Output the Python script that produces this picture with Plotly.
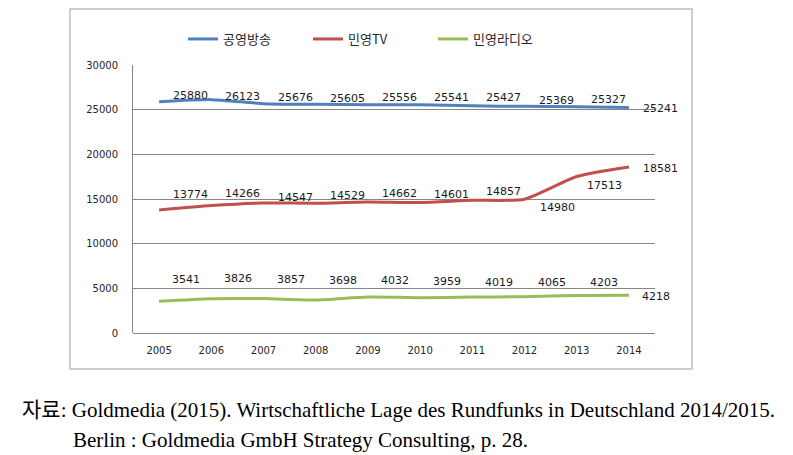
import plotly.graph_objects as go

years = ["2005", "2006", "2007", "2008", "2009", "2010", "2011", "2012", "2013", "2014"]
public_bc = [25880, 26123, 25676, 25605, 25556, 25541, 25427, 25369, 25327, 25241]
private_tv = [13774, 14266, 14547, 14529, 14662, 14601, 14857, 14980, 17513, 18581]
private_radio = [3541, 3826, 3857, 3698, 4032, 3959, 4019, 4065, 4203, 4218]
series_names = ["공영방송", "민영TV", "민영라디오"]
y_ticks = [0, 5000, 10000, 15000, 20000, 25000, 30000]

colors = ["#4F81BD", "#C0504D", "#9BBB59"]

# label offsets (pixels, positive = up) — styling only
blue_dy = [6, 3, 6, 6, 7, 7, 8, 6, 7, -1]
red_dy = [15, 12, 6, 8, 9, 8, 9, -8, -9, -1]
green_dy = [22, 20, 19, 19, 16, 16, 15, 14, 13, -1]
red_dx = [12, 12, 12, 12, 12, 12, 12, 13, 8, 12]

W, H = 793, 455
L, R, T, B = 133, 655, 65, 333

def px(xp):
    return (xp - L) / (R - L)

def py(yp):
    return (B - yp) / (B - T)

fig = go.Figure()
for name, vals, c in zip(series_names, [public_bc, private_tv, private_radio], colors):
    fig.add_trace(go.Scatter(x=years, y=vals, name=name, mode="lines",
                             line=dict(color=c, width=3, shape="spline", smoothing=0.6)))

annotations = []
for vals, dys, dxs in [(public_bc, blue_dy, [12] * 10), (private_tv, red_dy, red_dx),
                       (private_radio, green_dy, [11] * 10)]:
    for i, (yv, dy, dx) in enumerate(zip(vals, dys, dxs)):
        annotations.append(dict(x=i, y=yv, xref="x", yref="y", text=str(yv), showarrow=False,
                                xanchor="left", yanchor="middle", xshift=dx, yshift=dy,
                                font=dict(family="DejaVu Sans", size=11, color="#1a1a1a")))

annotations.append(dict(xref="paper", yref="paper", x=px(20), y=py(410), xanchor="left", yanchor="middle",
                        text="자료: Goldmedia (2015). Wirtschaftliche Lage des Rundfunks in Deutschland 2014/2015.",
                        showarrow=False, font=dict(family="Liberation Serif, Noto Sans CJK KR", size=21, color="#000")))
annotations.append(dict(xref="paper", yref="paper", x=px(71), y=py(440), xanchor="left", yanchor="middle",
                        text="Berlin : Goldmedia GmbH Strategy Consulting, p. 28.",
                        showarrow=False, font=dict(family="Liberation Serif", size=21, color="#000")))

fig.update_layout(
    width=W, height=H,
    margin=dict(l=L, r=W - R, t=T, b=H - B, pad=0),
    paper_bgcolor="white", plot_bgcolor="white",
    showlegend=True,
    legend=dict(orientation="h", x=px(183), y=py(39), xanchor="left", yanchor="middle",
                font=dict(family="Noto Sans CJK KR", size=13, color="#262626"),
                entrywidth=80, entrywidthmode="pixels", bgcolor="rgba(0,0,0,0)",
                itemwidth=30),
    annotations=annotations,
    shapes=[dict(type="rect", xref="paper", yref="paper", x0=px(70), x1=px(692), y0=py(369), y1=py(9),
                 line=dict(color="#BFBFBF", width=1.5), layer="below")],
    xaxis=dict(type="category", range=[-0.5, len(years) - 0.5], showgrid=False, showline=False,
               zeroline=False, ticks="",
               tickfont=dict(family="DejaVu Sans", size=10, color="#262626"), ticklabelstandoff=10),
    yaxis=dict(range=[0, 30000], tickvals=y_ticks, ticktext=[str(v) for v in y_ticks],
               showgrid=True, gridcolor="#868686", gridwidth=1, zeroline=True, zerolinecolor="#868686",
               zerolinewidth=1, showline=True, linecolor="#868686", linewidth=1, ticks="",
               tickfont=dict(family="DejaVu Sans", size=10, color="#262626"), ticklabelstandoff=12),
)

fig.write_html("out.html")
